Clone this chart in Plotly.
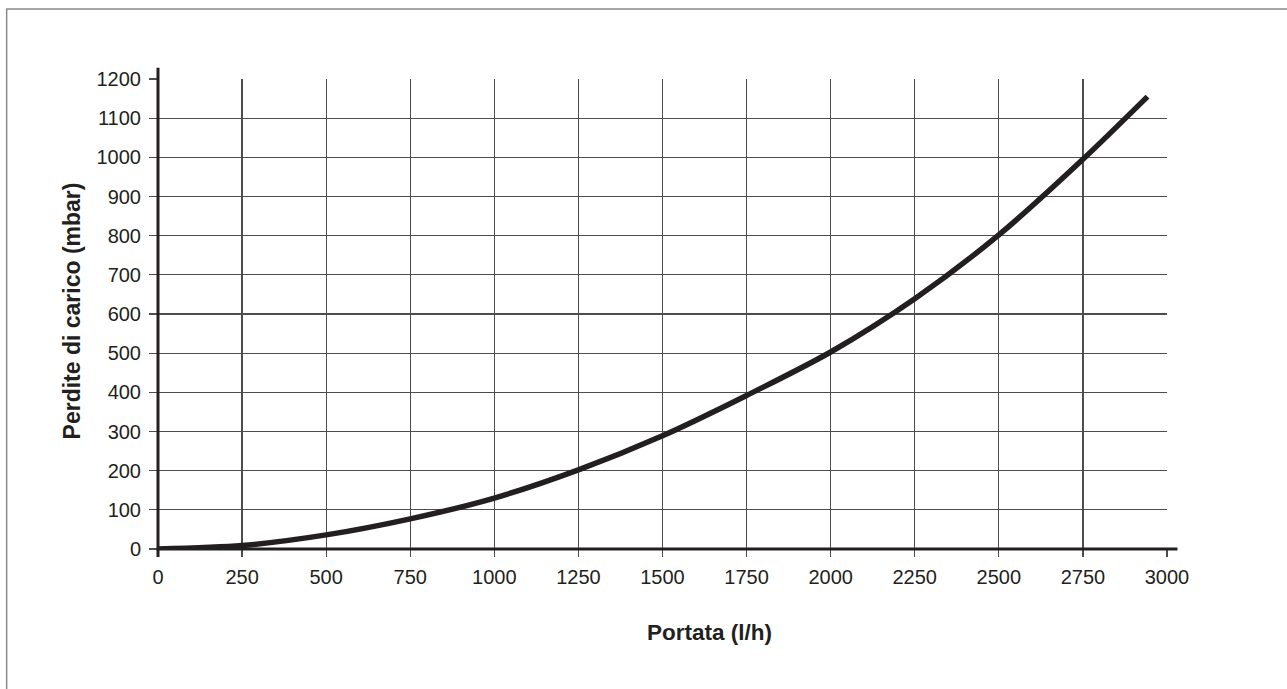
import plotly.graph_objects as go

portata = [0, 250, 500, 750, 1000, 1250, 1500, 1750, 2000, 2250, 2500, 2750, 2942]
perdite = [0, 9, 36, 77, 130, 202, 289, 392, 503, 639, 802, 995, 1155]

x_ticks = [0, 250, 500, 750, 1000, 1250, 1500, 1750, 2000, 2250, 2500, 2750, 3000]
y_ticks = [0, 100, 200, 300, 400, 500, 600, 700, 800, 900, 1000, 1100, 1200]

x_title = "Portata (l/h)"
y_title = "Perdite di carico (mbar)"

W, H = 1287, 689
L, R, T, B = 157.5, 1167.5, 79.3, 549.0

def px(v):
    return (v - L) / (R - L)

def py(v):
    return (B - v) / (B - T)

fig = go.Figure()
fig.add_trace(go.Scatter(
    x=portata, y=perdite, mode="lines",
    line=dict(color="#231f20", width=5.5, shape="spline", smoothing=0.8),
    hoverinfo="skip", showlegend=False, cliponaxis=False,
))

font_family = "Liberation Sans, Arial, sans-serif"
grid_col = "#4d4d4d"

fig.update_layout(
    width=W, height=H,
    margin=dict(l=L, r=W - R, t=T, b=H - B, pad=0),
    paper_bgcolor="white", plot_bgcolor="white",
    font=dict(family=font_family, color="#231f20", size=20),
    hovermode=False,
    xaxis=dict(
        range=[0, 3000], tickvals=x_ticks, ticktext=[str(v) for v in x_ticks],
        showgrid=True, gridcolor=grid_col, gridwidth=1.3,
        ticks="outside", ticklen=7, tickwidth=1.3, tickcolor=grid_col,
        ticklabelstandoff=3,
        showline=False, zeroline=False, fixedrange=True,
        tickfont=dict(size=20, family=font_family, color="#231f20"),
    ),
    yaxis=dict(
        range=[0, 1200], tickvals=y_ticks, ticktext=[str(v) for v in y_ticks],
        showgrid=True, gridcolor=grid_col, gridwidth=1.3,
        ticks="outside", ticklen=8, tickwidth=1.3, tickcolor=grid_col,
        ticklabelstandoff=4,
        showline=False, zeroline=False, fixedrange=True,
        tickfont=dict(size=20, family=font_family, color="#231f20"),
    ),
    shapes=[
        # outer border (left and top visible)
        dict(type="rect", xref="paper", yref="paper",
             x0=px(6), x1=px(1400), y0=py(800), y1=py(9.3),
             line=dict(color="#8a8a8a", width=1.5), fillcolor="rgba(0,0,0,0)", layer="below"),
        # x-axis line extended
        dict(type="line", xref="paper", yref="paper",
             x0=px(156), x1=px(1178), y0=0, y1=0,
             line=dict(color="#231f20", width=3)),
        # y-axis line extended
        dict(type="line", xref="paper", yref="paper",
             x0=0, x1=0, y0=py(557), y1=py(68),
             line=dict(color="#231f20", width=3)),
    ],
    annotations=[
        dict(text="<b>" + x_title + "</b>", xref="paper", yref="paper",
             x=px(710), y=py(632), showarrow=False, xanchor="center", yanchor="middle",
             font=dict(size=22.5, family=font_family, color="#231f20")),
        dict(text="<b>" + y_title + "</b>", xref="paper", yref="paper",
             x=px(71), y=py(311), showarrow=False, xanchor="center", yanchor="middle",
             textangle=-90,
             font=dict(size=23, family=font_family, color="#231f20")),
    ],
)

fig.write_html(
    "out.html",
    config={"displayModeBar": False, "staticPlot": True},
    post_script="document.body.style.margin='0';document.body.style.overflow='hidden';",
)
